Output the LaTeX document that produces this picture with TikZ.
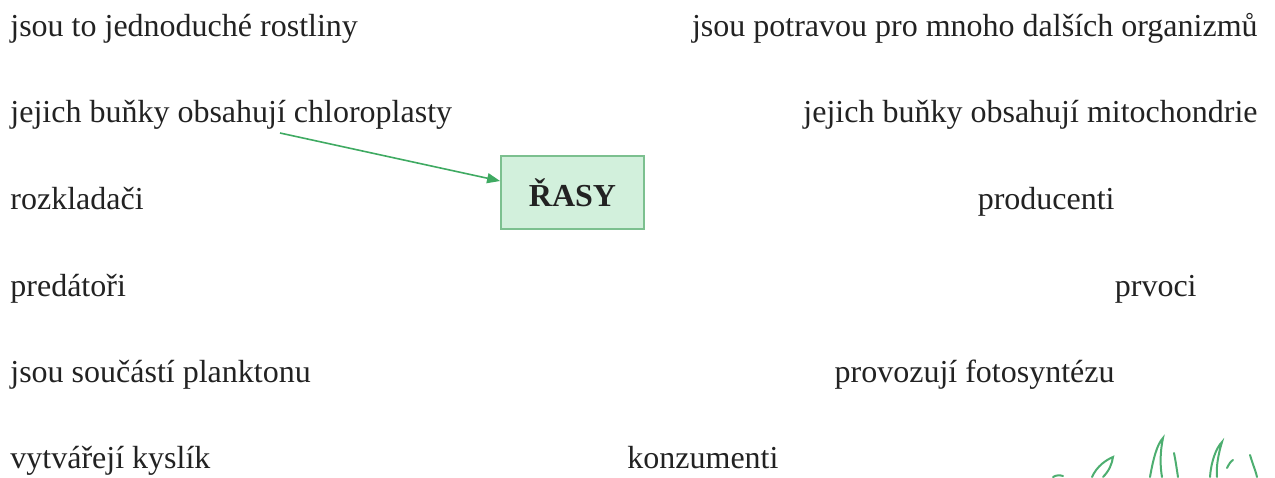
\documentclass[tikz,border=0pt]{standalone}
\usepackage{fontspec}
\setmainfont{Liberation Serif}
\usetikzlibrary{arrows.meta}
\definecolor{txt}{HTML}{222222}
\definecolor{arrowgreen}{HTML}{3FAA62}
\definecolor{boxfill}{HTML}{D2F0DC}
\definecolor{boxline}{HTML}{7CC08F}
\definecolor{grass}{HTML}{4DAE70}
\begin{document}
\begin{tikzpicture}[x=0.5pt,y=-0.5pt,
  lbl/.style={inner sep=0pt, font=\fontsize{16}{19}\selectfont, text=txt},
  lw/.style={lbl, anchor=base west},
  le/.style={lbl, anchor=base east},
  mainbox/.style={draw=boxline, fill=boxfill, line width=0.9pt, minimum width=71.5pt, minimum height=36.5pt, inner sep=0pt, font=\fontsize{16}{19}\selectfont\bfseries, text=txt},
  arr/.style={draw=arrowgreen, line width=0.8pt, -{Triangle[length=6.5pt,width=5pt]}},
  blade/.style={draw=grass, line width=1pt, line cap=round}
]
\useasboundingbox (0,0) rectangle (1275,477);
% left column
\node[lw] (l1) at (10,36) {jsou to jednoduché rostliny};
\node[lw] (l2) at (10,122) {jejich buňky obsahují chloroplasty};
\node[lw] (l3) at (10,209) {rozkladači};
\node[lw] (l4) at (10,296) {predátoři};
\node[lw] (l5) at (10,382) {jsou součástí planktonu};
\node[lw] (l6) at (10,468) {vytvářejí kyslík};
% right column
\node[le] (r1) at (1258,36) {jsou potravou pro mnoho dalších organizmů};
\node[le] (r2) at (1258,122) {jejich buňky obsahují mitochondrie};
\node[le] (r3) at (1115,209) {producenti};
\node[le] (r4) at (1197,296) {prvoci};
\node[le] (r5) at (1115,382) {provozují fotosyntézu};
\node[lw] (r6) at (627,468) {konzumenti};
% central box
\node[mainbox] (rasy) at (572.5,192.5) {ŘASY};
\coordinate (start) at (280,133);
\draw[arr] (start) -- ([yshift=5.75pt]rasy.west);
% green sketch bottom right
\draw[blade] (1053,477) .. controls (1056,475) and (1060,475) .. (1063,476);
\draw[blade] (1092,477) .. controls (1097,466) and (1106,460) .. (1113,457) .. controls (1112,464) and (1109,471) .. (1103,477);
\draw[blade] (1150,477) .. controls (1153,460) and (1157,444) .. (1163,438) .. controls (1160,452) and (1160,466) .. (1162,477);
\draw[blade] (1174,453) .. controls (1176,463) and (1177,471) .. (1178,477);
\draw[blade] (1210,477) .. controls (1211,462) and (1216,448) .. (1222,442) .. controls (1218,455) and (1216,468) .. (1217,477);
\draw[blade] (1227,468) .. controls (1229,464) and (1231,461) .. (1233,460);
\draw[blade] (1250,455) .. controls (1253,465) and (1256,472) .. (1257,477);
\end{tikzpicture}
\end{document}
